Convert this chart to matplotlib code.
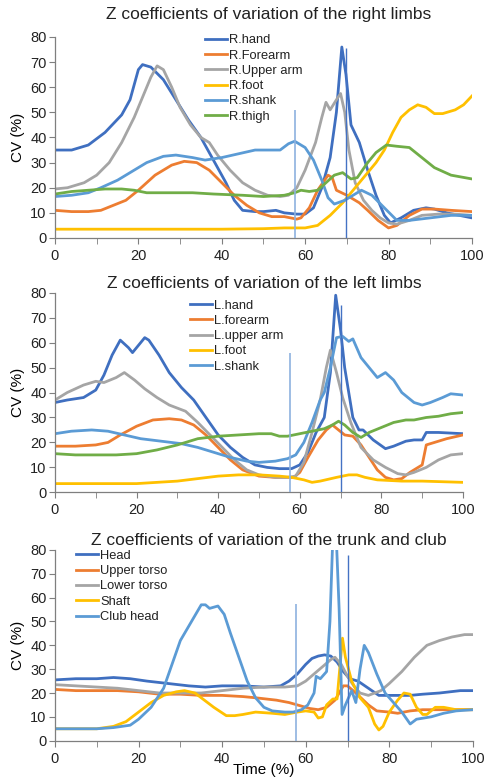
import matplotlib.pyplot as plt

plt.rcParams['font.family'] = ['Liberation Sans', 'DejaVu Sans']

BLUE = '#3F6FC0'
ORANGE = '#ED7D31'
GRAY = '#A5A5A5'
YELLOW = '#FFC000'
LBLUE = '#5B9BD5'
GREEN = '#70AD47'

# ---- right limbs ----
r_hand_x = [0, 4, 8, 12, 16, 18, 20, 21, 23, 26, 29, 32, 35, 38, 41, 43, 45, 48, 50, 53, 55, 58, 60, 62, 64, 66, 67.5, 68.8, 69.8, 71, 73, 75, 77, 79, 80.5, 83, 86, 89, 91, 94, 97, 100]
r_hand_y = [35, 35, 37, 42, 49, 55, 67, 69, 68, 63, 55, 47, 40, 31, 22, 15, 11, 10.5, 10.5, 11, 10, 9.5, 9.5, 12, 20, 32, 50, 76, 65, 45, 38, 27, 17, 9, 6, 8, 11, 12, 11.5, 10, 9, 8]
r_forearm_x = [0, 4, 8, 11, 14, 17, 20, 24, 28, 31, 34, 37, 40, 43, 46, 49, 52, 55, 58, 59, 61, 63, 65.5, 66.5, 67.5, 70, 73, 75, 77.5, 80, 82, 85, 88, 91, 95, 100]
r_forearm_y = [11, 10.5, 10.5, 11, 13, 15, 19, 25, 29, 30.5, 30, 27, 22, 17, 13, 10, 8.5, 8.5, 7.5, 8, 12, 19, 25, 24, 19, 17, 14, 11, 7, 4, 5, 9, 11.5, 11.5, 11, 10.5]
r_upper_x = [0, 3, 7, 10, 13, 16, 19, 21, 23, 24.5, 26, 28, 30, 32.5, 35, 37, 39, 42, 45, 48, 51, 54, 56, 58, 60, 62.5, 64, 65, 66, 67.5, 68.5, 69.5, 70.5, 72, 74, 76, 78, 80, 82, 85, 88, 92, 96, 100]
r_upper_y = [19.5, 20, 22, 25, 30, 38, 48, 56, 64, 68.5, 67, 60, 52, 45, 40, 38, 33, 27, 22, 19, 17, 16.5, 17, 20, 27, 38, 48, 54, 51, 55, 57.5, 50, 35, 22, 15, 11, 8, 6, 5.5, 7, 9, 9.5, 9.5, 9]
r_foot_x = [0, 10, 20, 30, 40, 50, 55, 60, 63, 66, 69, 72, 75, 77, 79, 81, 83, 85, 87, 89, 91, 93, 96, 98, 100]
r_foot_y = [3.5, 3.5, 3.5, 3.5, 3.5, 3.7, 4, 4, 5, 9, 14, 20, 26, 30, 35, 42, 48, 51, 53, 52, 49.5, 49.5, 51, 53, 56.5]
r_shank_x = [0, 4, 8, 11, 15, 19, 22, 26, 29, 33, 36, 40, 44, 48, 51, 54, 56, 57.5, 60, 62, 64, 65.5, 67, 69.5, 71.5, 73.5, 76, 79, 82, 85, 90, 95, 100]
r_shank_y = [16.5, 17, 18, 20, 23, 27, 30, 32.5, 33, 32, 31, 32, 33.5, 35, 35, 35, 37.5, 38.5, 36, 31, 23, 16, 13.5, 15, 17, 19, 17, 12, 7, 7, 8, 9, 9]
r_thigh_x = [0, 4, 8, 12, 16, 19, 22, 27, 33, 38, 45, 50, 55, 57.5, 59, 61, 63, 65, 67, 69, 71, 72.5, 75, 77, 79.5, 82, 85, 88, 91, 95, 100]
r_thigh_y = [17.5, 18.5, 19, 19.5, 19.5, 19, 18, 18, 18, 17.5, 17, 16.5, 17, 18, 19, 18.5, 19, 22, 25, 26, 23.5, 24, 30, 34, 37, 36.5, 36, 32, 28, 25, 23.5]

# ---- left limbs ----
l_hand_x = [0, 3, 7, 10, 12, 14, 16, 18, 19, 20.5, 22, 23, 25.5, 28, 31, 34, 37, 40, 43, 46, 49, 52, 55, 58, 60, 62, 64, 66, 67.5, 68.8, 70, 71, 73, 74.5, 75.5, 78, 81, 83, 86, 88, 90, 91, 94, 100]
l_hand_y = [36, 37, 38, 41, 47, 55, 61, 58, 56, 59, 62, 61, 55, 48, 42, 37, 30, 23, 18, 14, 11, 10, 9.5, 9.5, 11, 16, 24, 30, 48, 79, 65, 50, 30, 25, 25, 21, 17.5, 18.5, 20.5, 21, 21, 24, 24, 23.5]
l_forearm_x = [0, 5, 10, 13, 16, 20, 24, 28, 31, 34, 37, 40, 43, 46, 50, 54, 57, 58.5, 60, 62, 64.5, 66.5, 68, 69.5, 71, 73, 75, 77, 79, 81, 83, 85, 87, 89, 90, 91, 93, 96, 100]
l_forearm_y = [18.5, 18.5, 19, 20, 23, 26.5, 29, 29.5, 29, 27, 23, 18, 13, 9, 6.5, 6, 6, 6, 8, 14, 21, 25, 27, 25, 23, 22.5, 19, 14, 9, 6, 5, 5.5, 8, 10, 11, 19, 20, 21.5, 23]
l_upper_x = [0, 3, 7, 10, 12, 15, 17, 19.5, 22, 25, 28, 32, 35, 38, 41, 44, 47, 50, 54, 57, 59, 61, 63, 65, 66.5, 67.5, 69, 70.5, 72.5, 75, 78, 81, 84, 86, 88, 91, 94, 97, 100]
l_upper_y = [37, 40, 43, 44.5, 44, 46, 48, 45, 41.5, 38, 35, 32.5, 28, 23, 18, 13, 9, 7, 6, 6, 6.5, 12, 24, 37, 50, 57, 48, 38, 28, 18, 13, 10, 7.5, 7, 8, 10, 13, 15, 15.5]
l_foot_x = [0, 10, 20, 25, 30, 35, 40, 45, 50, 55, 58, 61, 63, 65, 69, 72, 74, 76, 79, 85, 90, 100]
l_foot_y = [3.5, 3.5, 3.5, 4, 4.5, 5.5, 6.5, 7, 7, 6.5, 6, 5, 4, 4.5, 6, 7, 7, 6, 5, 4.5, 4.5, 4]
l_shank_x = [0, 4, 9, 13, 17, 21, 26, 31, 35, 39, 43, 47, 50, 54, 57, 59, 61, 63, 65, 66, 67.5, 69, 70.5, 72, 73, 75, 78, 79, 81, 83, 85, 88, 90, 92, 95, 97, 100]
l_shank_y = [23.5, 24.5, 25, 24.5, 23, 21.5, 20.5, 19.5, 18, 16, 14, 12.5, 12, 12.5, 13.5, 15, 20, 28, 37, 40, 50, 62, 62.5, 60.5, 61.5, 54, 48, 46, 48, 45, 40, 36, 35, 36, 38, 39.5, 39]
l_thigh_x = [0, 5, 10, 15, 20, 25, 30, 35, 40, 45, 50, 53, 55, 57, 60, 63, 66, 68, 69.5, 71, 73, 75, 77, 80, 83, 86, 88, 91, 94, 97, 100]
l_thigh_y = [15.5, 15, 15, 15, 15.5, 17, 19, 21.5, 22.5, 23, 23.5, 23.5, 22.5, 22.5, 23.5, 24.5, 25.5, 27, 28.5, 27, 24, 22, 24, 26, 28, 29, 29, 30, 30.5, 31.5, 32]

# ---- trunk and club ----
head_x = [0, 5, 10, 14, 18, 22, 27, 32, 36, 40, 45, 50, 54, 56, 58, 60, 61.5, 63, 64.5, 66, 67.5, 69, 70.5, 72.5, 75, 77.5, 80, 85, 88, 92, 97, 100]
head_y = [25.5, 26, 26, 26.5, 26, 25, 24, 23, 22.5, 23, 23, 22.5, 23, 25, 28, 32, 34.5, 35.5, 36, 35.5, 33, 29, 26, 25, 22, 19, 19, 19, 19.5, 20, 21, 21]
upper_torso_x = [0, 5, 10, 15, 20, 25, 30, 35, 40, 45, 48, 53, 56, 59, 61, 63, 65, 67, 69, 70, 72, 75, 77, 80, 82, 85, 88, 92, 100]
upper_torso_y = [21.5, 21, 21, 21, 20.5, 19.5, 19.5, 19, 19, 18.5, 18, 17, 16, 14.5, 13.5, 13, 14, 17, 23, 23, 20, 15, 12.5, 12, 11.5, 12.5, 13, 13, 13]
lower_torso_x = [0, 5, 10, 15, 20, 25, 30, 35, 40, 45, 50, 55, 58, 60, 62, 64, 66, 67, 68.5, 70, 71.5, 73, 75, 78, 80, 83, 86, 89, 92, 95, 98, 100]
lower_torso_y = [23.5, 23, 22.5, 22, 21, 20, 20, 20, 21, 22, 22.5, 22.5, 23, 25, 28, 31, 34, 35, 32, 27, 23, 20, 19, 21, 24, 29, 35, 40, 42, 43.5, 44.5, 44.5]
shaft_x = [0, 5, 10, 14, 17, 20, 23, 26, 29, 31, 33.5, 35, 38, 41, 43, 45, 48, 52, 55, 58, 60, 62, 63, 64, 65, 66.5, 67.5, 68.8, 69.5, 71, 73, 75, 76.5, 77.5, 78.5, 80, 82, 83.5, 85, 86.5, 88, 89, 91, 93, 96, 100]
shaft_y = [5, 5, 5, 6, 8, 12, 16, 19, 20.5, 21, 20, 18, 14, 10.5, 10.5, 11, 12, 11.5, 11, 12, 12.5, 12, 9.5, 10, 15, 17.5, 17.5, 43, 35, 25, 18, 14, 7, 4.5, 6, 12, 17, 20, 19.5, 14, 11, 11, 14, 14, 13, 13]
club_x = [0, 5, 10, 14, 18, 20, 23, 26, 28, 30, 32, 33, 35, 36, 37, 39, 40.5, 42, 44, 46, 48, 50, 52, 55, 57, 59, 60.5, 62, 62.5, 63.5, 65, 65.8, 66.5, 67.3, 68, 68.7, 69.5, 71, 72, 73, 74, 75, 77, 79, 81, 83, 85, 86.5, 90, 93, 96, 100]
club_y = [5, 5, 5, 5.5, 6.5, 9, 14, 22, 32, 42, 48, 51, 57, 57, 55.5, 56.5, 53, 45, 35, 25, 18, 14, 12.5, 12, 12, 13, 15, 20, 27, 26, 29, 50, 86, 86, 55, 11, 15, 21, 16, 30, 40, 37, 28, 20, 16, 12, 7, 9, 10, 11.5, 12.5, 13]

# event markers: (x, top) of the thin vertical lines in each panel
events_right = [(57.6, 51), (69.8, 75.5)]
events_left = [(57.6, 56), (70.0, 75)]
events_trunk = [(57.6, 57.5), (70.0, 78)]

panels = [
    dict(rect=[0.1136, 0.6949, 0.8614, 0.2577],
         title='Z coefficients of variation of the right limbs', title_y=0.982,
         series=[(r_hand_x, r_hand_y, BLUE, 'R.hand'),
                 (r_forearm_x, r_forearm_y, ORANGE, 'R.Forearm'),
                 (r_upper_x, r_upper_y, GRAY, 'R.Upper arm'),
                 (r_foot_x, r_foot_y, YELLOW, 'R.foot'),
                 (r_shank_x, r_shank_y, LBLUE, 'R.shank'),
                 (r_thigh_x, r_thigh_y, GREEN, 'R.thigh')],
         events=events_right, legend_at=(0.424, 0.956), xlabel=None),
    dict(rect=[0.1136, 0.3688, 0.8430, 0.2559],
         title='Z coefficients of variation of the left limbs', title_y=0.636,
         series=[(l_hand_x, l_hand_y, BLUE, 'L.hand'),
                 (l_forearm_x, l_forearm_y, ORANGE, 'L.forearm'),
                 (l_upper_x, l_upper_y, GRAY, 'L.upper arm'),
                 (l_foot_x, l_foot_y, YELLOW, 'L.foot'),
                 (l_shank_x, l_shank_y, LBLUE, 'L.shank'),
                 (l_thigh_x, l_thigh_y, GREEN, None)],
         events=events_left, legend_at=(0.393, 0.616), xlabel=None),
    dict(rect=[0.1136, 0.0504, 0.8634, 0.2445],
         title='Z coefficients of variation of the trunk and club', title_y=0.307,
         series=[(head_x, head_y, BLUE, 'Head'),
                 (upper_torso_x, upper_torso_y, ORANGE, 'Upper torso'),
                 (lower_torso_x, lower_torso_y, GRAY, 'Lower torso'),
                 (shaft_x, shaft_y, YELLOW, 'Shaft'),
                 (club_x, club_y, LBLUE, 'Club head')],
         events=events_trunk, legend_at=(0.158, 0.295), xlabel='Time (%)'),
]

fig = plt.figure(figsize=(4.84, 7.8), dpi=100)

for p in panels:
    ax = fig.add_axes(p['rect'])
    for x, y, c, lab in p['series']:
        ax.plot(x, y, color=c, lw=2.0, label=lab, solid_joinstyle='round')
    (x1, t1), (x2, t2) = p['events']
    ax.vlines(x1, 0, t1, color='#8DB1DF', lw=1.2, zorder=5)
    ax.vlines(x2, 0, t2, color='#4472C4', lw=1.0, zorder=5)

    ax.set_xlim(0, 100)
    ax.set_ylim(0, 80)
    ax.set_xticks(range(0, 101, 20))
    ax.set_xticks(range(0, 101, 10), minor=True)
    ax.set_yticks(range(0, 81, 10))
    for s in ('top', 'right'):
        ax.spines[s].set_visible(False)
    for s in ('left', 'bottom'):
        ax.spines[s].set_color('#7F7F7F')
        ax.spines[s].set_linewidth(0.9)
    ax.tick_params(which='both', direction='out', length=4, color='#7F7F7F',
                   labelsize=10.5, labelcolor='#222222', pad=2)
    ax.tick_params(axis='x', which='major', pad=4)
    ax.set_ylabel('CV (%)', fontsize=11, labelpad=4)
    if p['xlabel']:
        ax.set_xlabel(p['xlabel'], fontsize=11, labelpad=-2)
    fig.text((p['rect'][0] + p['rect'][0] + p['rect'][2]) / 2 + 0.01, p['title_y'],
             p['title'], ha='center', va='center', fontsize=12.5, color='#222222')
    leg = ax.legend(loc='upper left', bbox_to_anchor=p['legend_at'],
                    bbox_transform=fig.transFigure, frameon=False,
                    fontsize=9.3, handlelength=1.7, handletextpad=0.15,
                    labelspacing=0.25, borderpad=0, borderaxespad=0)
    for t in leg.get_texts():
        t.set_color('#222222')

fig.savefig('out.png', dpi=100)
